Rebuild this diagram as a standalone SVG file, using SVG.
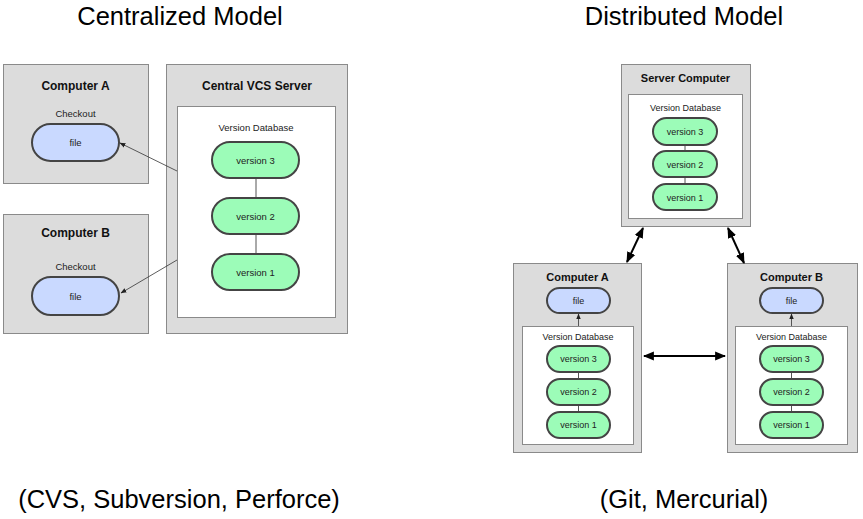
<svg xmlns="http://www.w3.org/2000/svg" width="863" height="519" viewBox="0 0 863 519">
<defs>
<style>
.title{font-family:"Liberation Sans",Arial,sans-serif;font-size:25.5px;fill:#000;text-anchor:middle}
.box{fill:#dcdcdc;stroke:#8a8a8a;stroke-width:1}
.db{fill:#fff;stroke:#8a8a8a;stroke-width:1}
.bt{font-family:"Liberation Sans",Arial,sans-serif;font-weight:bold;font-size:12px;fill:#111;text-anchor:middle}
.bts{font-family:"Liberation Sans",Arial,sans-serif;font-weight:bold;font-size:11px;fill:#111;text-anchor:middle}
.lt{font-family:"Liberation Sans",Arial,sans-serif;font-size:9.5px;fill:#222;text-anchor:middle}
.ls{font-family:"Liberation Sans",Arial,sans-serif;font-size:9px;fill:#222;text-anchor:middle}
.file{fill:#c9d9ff;stroke:#444;stroke-width:2}
.ver{fill:#9cfcb8;stroke:#444;stroke-width:2}
.link{stroke:#555;stroke-width:1;fill:none}
.thin{stroke:#333;stroke-width:0.8;fill:none}
.bold{stroke:#000;stroke-width:2;fill:none}
</style>
<marker id="sa" viewBox="0 0 10 10" refX="9" refY="5" markerWidth="6" markerHeight="6" markerUnits="userSpaceOnUse" orient="auto-start-reverse">
<path d="M0,1 L10,5 L0,9 z" fill="#222"/>
</marker>
<marker id="ba" viewBox="0 0 10 10" refX="9" refY="5" markerWidth="11" markerHeight="11" markerUnits="userSpaceOnUse" orient="auto-start-reverse">
<path d="M0,1 L10,5 L0,9 z" fill="#000"/>
</marker>
</defs>
<rect width="863" height="519" fill="#fff"/>

<text class="title" x="180" y="25">Centralized Model</text>
<text class="title" x="684" y="25">Distributed Model</text>
<text class="title" x="179" y="508">(CVS, Subversion, Perforce)</text>
<text class="title" x="684" y="508">(Git, Mercurial)</text>

<g id="c-computer-a">
<rect class="box" x="3.5" y="64.5" width="145" height="119"/>
<text class="bt" x="75.5" y="90">Computer A</text>
<text class="lt" x="75.5" y="116.5">Checkout</text>
<rect class="file" x="32" y="124" width="87" height="37" rx="18.5"/>
<text class="lt" x="75.5" y="146">file</text>
</g>

<g id="c-computer-b">
<rect class="box" x="3.5" y="214.5" width="145" height="119"/>
<text class="bt" x="75.5" y="237">Computer B</text>
<text class="lt" x="75.5" y="269.5">Checkout</text>
<rect class="file" x="32" y="277" width="87" height="38" rx="19"/>
<text class="lt" x="75.5" y="299.5">file</text>
</g>

<g id="c-server">
<rect class="box" x="166.5" y="64.5" width="181" height="269"/>
<text class="bt" x="257" y="90">Central VCS Server</text>
<rect class="db" x="177.5" y="106.5" width="158" height="211"/>
<text class="lt" x="256" y="130.5">Version Database</text>
<line class="link" x1="256" y1="178" x2="256" y2="198"/>
<line class="link" x1="256" y1="234" x2="256" y2="254"/>
<rect class="ver" x="212" y="142" width="87" height="36" rx="18"/>
<text class="lt" x="255.5" y="163.5">version 3</text>
<rect class="ver" x="212" y="198" width="87" height="36" rx="18"/>
<text class="lt" x="255.5" y="219.5">version 2</text>
<rect class="ver" x="212" y="254" width="87" height="36" rx="18"/>
<text class="lt" x="255.5" y="275.5">version 1</text>
</g>

<g id="d-server">
<rect class="box" x="621.5" y="64.5" width="129" height="162"/>
<text class="bts" x="685.5" y="82">Server Computer</text>
<rect class="db" x="628.5" y="94.5" width="114" height="124"/>
<text class="ls" x="685.5" y="111">Version Database</text>
<line class="link" x1="685" y1="145" x2="685" y2="151"/>
<line class="link" x1="685" y1="177" x2="685" y2="184"/>
<rect class="ver" x="653" y="118" width="64" height="27" rx="13.5"/>
<text class="ls" x="685" y="134.5">version 3</text>
<rect class="ver" x="653" y="151" width="64" height="26" rx="13"/>
<text class="ls" x="685" y="167.5">version 2</text>
<rect class="ver" x="653" y="184" width="64" height="26" rx="13"/>
<text class="ls" x="685" y="200.5">version 1</text>
</g>

<g id="d-computer-a">
<rect class="box" x="513.5" y="263.5" width="128" height="189"/>
<text class="bts" x="577.5" y="281">Computer A</text>
<rect class="file" x="547" y="288" width="63" height="25" rx="12.5"/>
<text class="ls" x="578.5" y="303.5">file</text>
<rect class="db" x="522.5" y="326.5" width="111" height="118"/>
<text class="ls" x="578" y="339.5">Version Database</text>
<line class="link" x1="578.5" y1="372" x2="578.5" y2="379"/>
<line class="link" x1="578.5" y1="405" x2="578.5" y2="412"/>
<rect class="ver" x="547" y="346" width="63" height="26" rx="13"/>
<text class="ls" x="578.5" y="362">version 3</text>
<rect class="ver" x="547" y="379" width="63" height="26" rx="13"/>
<text class="ls" x="578.5" y="395">version 2</text>
<rect class="ver" x="547" y="412" width="63" height="26" rx="13"/>
<text class="ls" x="578.5" y="428">version 1</text>
</g>

<g id="d-computer-b">
<rect class="box" x="727.5" y="263.5" width="130" height="189"/>
<text class="bts" x="791.5" y="281">Computer B</text>
<rect class="file" x="760" y="288" width="63" height="25" rx="12.5"/>
<text class="ls" x="791.5" y="303.5">file</text>
<rect class="db" x="735.5" y="326.5" width="112" height="118"/>
<text class="ls" x="791.5" y="339.5">Version Database</text>
<line class="link" x1="791.5" y1="372" x2="791.5" y2="379"/>
<line class="link" x1="791.5" y1="405" x2="791.5" y2="412"/>
<rect class="ver" x="760" y="346" width="63" height="26" rx="13"/>
<text class="ls" x="791.5" y="362">version 3</text>
<rect class="ver" x="760" y="379" width="63" height="26" rx="13"/>
<text class="ls" x="791.5" y="395">version 2</text>
<rect class="ver" x="760" y="412" width="63" height="26" rx="13"/>
<text class="ls" x="791.5" y="428">version 1</text>
</g>

<g id="connectors">
<line class="thin" x1="177" y1="171" x2="120" y2="143" marker-end="url(#sa)"/>
<line class="thin" x1="177" y1="260" x2="121" y2="293" marker-end="url(#sa)"/>
<line class="thin" x1="578.5" y1="326" x2="578.5" y2="314" marker-end="url(#sa)"/>
<line class="thin" x1="791.5" y1="326" x2="791.5" y2="314" marker-end="url(#sa)"/>
<line class="bold" x1="643" y1="228" x2="627" y2="262" marker-start="url(#ba)" marker-end="url(#ba)"/>
<line class="bold" x1="728" y1="228" x2="744" y2="263" marker-start="url(#ba)" marker-end="url(#ba)"/>
<line class="bold" x1="644" y1="356" x2="725" y2="356" marker-start="url(#ba)" marker-end="url(#ba)"/>
</g>
</svg>
